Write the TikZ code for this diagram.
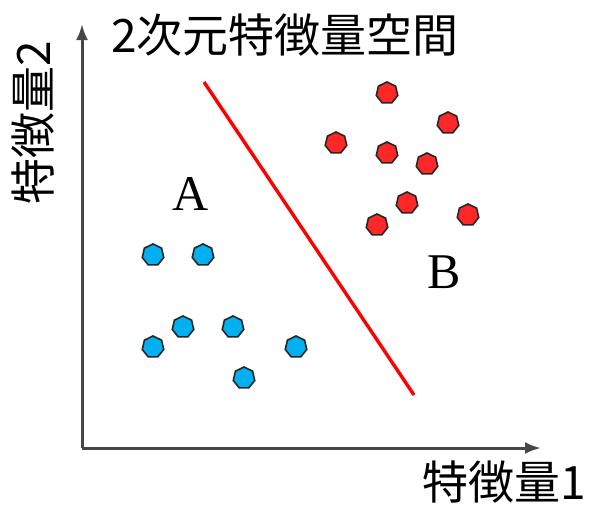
\documentclass[tikz,border=0pt]{standalone}
\usepackage{fontspec}
\setmainfont{Liberation Serif}
\newfontfamily\jpfont{Noto Sans CJK JP}
\usetikzlibrary{arrows.meta,shapes.geometric}

\begin{document}
\begin{tikzpicture}[
    x=1pt, y=-1pt,
    dot/.style={regular polygon, regular polygon sides=7, minimum size=22pt,
                inner sep=0pt, draw=black!85, line width=1.6pt, fill=#1},
    axis/.style={draw=black!72, line width=3pt, -{Latex[length=16pt,width=12pt]}},
    jplabel/.style={font=\jpfont\fontsize{46}{48}\selectfont, inner sep=0pt},
    classlabel/.style={font=\fontsize{50}{52}\selectfont, inner sep=0pt},
    boundary/.style={draw=red, line width=3.4pt}
]
\definecolor{clsA}{RGB}{0,176,240}
\definecolor{clsB}{RGB}{255,40,40}
\useasboundingbox (0,0) rectangle (593,506);

% Axes
\coordinate (O) at (82,448);
\coordinate (X) at (541,448);
\coordinate (Y) at (82,24);
\draw[axis] (O) -- (X);
\draw[axis] (O) -- (Y);

% Axis labels
\node[jplabel] (title) at (285,35) {2次元特徴量空間};
\node[jplabel, rotate=90] (ylab) at (33,123) {特徴量2};
\node[jplabel] (xlab) at (504,482) {特徴量1};

% Decision boundary
\coordinate (P) at (204,82);
\coordinate (Q) at (414,395);
\draw[boundary] (P) -- (Q);

% Class A
\foreach \px/\py [count=\i] in {153/255, 203/255, 183/327, 233/327, 153/347, 296/347, 244/378}
    \node[dot=clsA] (a\i) at (\px,\py) {};

% Class B
\foreach \px/\py [count=\i] in {387/93, 448/123, 336/143, 387/153, 427/164, 407/203, 468/215, 377/225}
    \node[dot=clsB] (b\i) at (\px,\py) {};

% Class names
\node[classlabel] (labA) at (191,194) {A};
\node[classlabel] (labB) at (444,272) {B};

\end{tikzpicture}
\end{document}
